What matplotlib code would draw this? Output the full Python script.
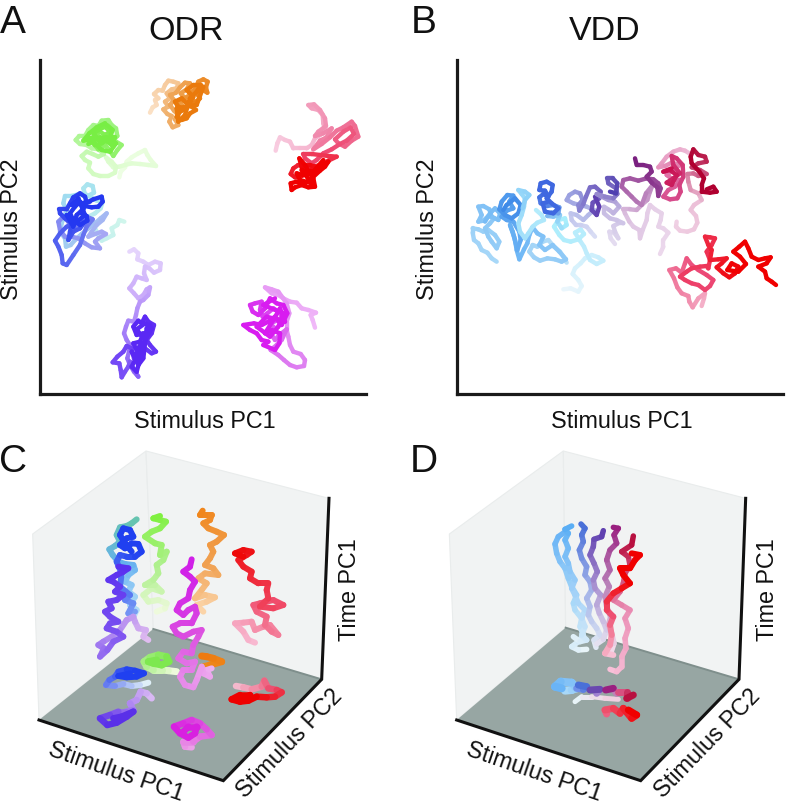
import matplotlib
matplotlib.use('Agg')
import matplotlib.pyplot as plt
from matplotlib.collections import LineCollection
from matplotlib.colors import LinearSegmentedColormap
from matplotlib.patches import Polygon
import numpy as np

W, H = 796, 806
plt.rcParams['font.family'] = ['Liberation Sans', 'DejaVu Sans']

# Panel A, ODR, stimulus PC1 / PC2 (faint start -> saturated end)
odr_orange = [(360,188),(368,172),(380,165),(375,150),(385,145),(372,132),(385,120),(398,122),(405,105),(415,92),(430,95),(445,100),(440,115),(425,118),(410,130),(420,145),(405,155),(415,170),(400,178),(412,192),(425,198),(418,215),(428,232),(445,225),(435,208),(445,195),(432,182),(420,165),(432,150),(420,135),(438,128),(450,112),(465,98),(480,100),(470,118),(452,130),(465,145),(450,158),(462,172),(445,185),(440,160),(455,150),(472,140),(490,150),(478,130),(495,118),(505,95),(520,88),(533,95),(528,112),(532,128),(515,118),(500,130),(510,145),(492,160),(475,155),(485,170),(498,180),(480,190),(470,205),(455,210),(440,200),(450,185),(465,178),(445,170),(435,155),(455,145),(475,165),(490,140),(470,120),(490,105),(512,105),(500,125),(480,145),(465,195),(445,215),(440,175),(500,165),(520,110)]
odr_green = [(268,382),(272,365),(285,352),(290,335),(305,322),(325,310),(345,300),(352,315),(362,330),(378,348),(355,345),(330,342),(305,340),(285,345),(268,350),(250,352),(235,335),(228,322),(245,335),(258,350),(255,368),(235,378),(210,378),(190,372),(175,355),(180,338),(165,330),(155,318),(170,305),(188,312),(205,320),(222,312),(205,298),(185,295),(170,285),(150,282),(137,270),(148,258),(165,258),(175,240),(190,225),(205,228),(215,212),(235,210),(245,225),(258,235),(262,258),(250,270),(275,285),(262,300),(250,318),(238,300),(225,285),(205,298),(190,280),(175,268),(195,258),(210,245),(225,255),(240,245),(225,230),(205,240),(190,250),(205,270),(225,270),(245,285),(255,262),(240,262),(215,280),(195,285),(180,265),(232,262),(258,280),(240,305),(215,300),(185,270),(160,272),(178,250),(200,232),(225,220),(248,240),(235,275),(210,262),(175,282)]
odr_blue = [(283,515),(268,510),(262,525),(245,535),(250,555),(230,565),(215,572),(205,555),(195,535),(185,515),(175,500),(195,490),(212,475),(218,455),(200,452),(185,442),(165,432),(160,415),(172,403),(188,408),(192,428),(170,440),(150,432),(125,438),(105,438),(100,460),(110,480),(95,520),(90,545),(105,565),(108,590),(122,585),(135,570),(155,552),(175,535),(195,520),(212,505),(230,490),(218,510),(200,525),(185,545),(175,560),(195,552),(215,545),(228,552),(205,565),(195,575),(210,595),(185,592),(165,580),(145,565),(125,560),(105,560),(90,540),(85,515),(100,500),(115,515),(125,540),(140,525),(155,510),(170,500),(188,508),(170,530),(160,555),(150,585),(130,615),(110,645),(98,640),(95,615),(85,590),(75,572),(90,550),(110,530),(135,520),(165,515),(150,535),(130,545),(115,570),(120,545),(125,520),(105,505),(90,490),(88,478),(110,478),(120,460),(130,442),(150,430),(165,440),(170,458),(190,448),(215,440),(218,455),(205,470),(185,472),(165,468),(150,488),(170,498),(172,512),(150,525),(130,510),(120,490),(135,470),(150,455),(160,478),(140,495),(130,530),(110,495),(140,515),(165,495),(145,445),(125,465),(180,455)]
odr_violet = [(298,605),(312,598),(325,610),(322,628),(340,635),(355,645),(375,635),(392,640),(390,660),(372,668),(358,655),(345,650),(342,670),(350,690),(335,685),(320,680),(310,700),(298,715),(312,730),(325,745),(340,735),(350,718),(360,712),(355,735),(340,750),(330,755),(322,775),(318,795),(312,815),(295,812),(288,830),(282,850),(290,870),(300,885),(297,905),(292,925),(300,945),(312,965),(325,980),(312,960),(300,935),(295,950),(285,965),(275,982),(272,960),(268,940),(248,937),(262,920),(280,905),(290,888),(305,895),(312,925),(325,935),(335,910),(345,895),(365,910),(378,905),(360,885),(350,870),(365,850),(372,825),(355,815),(345,800),(335,820),(325,812),(310,830),(320,855),(340,850),(330,875),(310,880),(320,900),(335,880),(315,920),(305,905),(325,945),(340,925),(350,835),(360,825),(340,865),(320,838),(345,820),(365,835),(330,900),(305,950),(320,965),(345,870)]
odr_magenta = [(855,833),(848,810),(842,795),(858,788),(835,780),(815,775),(800,758),(780,755),(760,745),(745,735),(725,730),(705,712),(725,718),(745,725),(770,760),(778,790),(770,815),(770,840),(775,860),(780,885),(790,905),(812,912),(825,930),(822,948),(800,952),(780,945),(762,930),(745,915),(722,900),(740,885),(755,870),(770,838),(748,855),(735,870),(722,850),(735,835),(720,820),(740,812),(758,800),(745,785),(730,775),(712,790),(698,800),(690,780),(695,755),(675,760),(660,765),(668,785),(685,795),(705,775),(720,745),(740,760),(760,765),(772,790),(755,825),(735,800),(715,815),(695,825),(672,820),(640,825),(660,840),(680,850),(695,870),(715,875),(700,885),(735,900),(748,880),(750,850),(725,840),(705,850),(730,810),(750,775),(765,815),(710,800),(680,830),(720,860),(745,830),(760,790),(700,765),(735,745)]
odr_red = [(737,302),(742,280),(750,262),(765,270),(780,275),(790,295),(810,295),(830,295),(845,285),(855,265),(870,255),(885,240),(880,220),(878,195),(865,180),(845,175),(835,165),(852,163),(870,180),(885,205),(888,228),(865,245),(855,258),(880,250),(905,235),(890,262),(870,272),(850,298),(875,282),(900,262),(920,242),(940,232),(965,215),(975,228),(985,260),(965,272),(945,290),(925,280),(915,268),(940,245),(962,232),(972,252),(950,272),(930,282),(905,298),(880,310),(860,330),(845,340),(825,325),(820,312),(845,312),(870,315),(895,318),(920,320),(895,332),(870,345),(850,350),(830,345),(805,345),(790,355),(782,372),(795,382),(815,378),(835,365),(855,350),(840,345),(815,352),(808,325),(825,345),(838,368),(850,385),(855,410),(835,412),(815,405),(795,412),(785,420),(782,400),(800,395),(825,400),(845,385),(870,362),(885,350),(895,335),(870,350),(845,372),(820,375),(800,370),(810,390),(845,400),(815,360),(850,365),(880,330)]

# Panel B, VDD
vdd_sky_a = [(350,638),(340,620),(330,605),(312,590),(295,570),(278,575),(262,590),(248,585),(238,605),(252,622),(270,632),(292,625),(315,628),(335,635),(348,628),(328,605),(308,585),(285,600),(268,585),(280,560),(262,550),(248,532),(238,555),(232,580),(222,598),(208,628),(200,600),(195,570),(188,545),(180,525),(192,560),(202,600),(212,570),(208,545),(190,515),(170,510),(155,500),(170,482),(190,475),(178,455),(190,437),(172,435),(155,455),(148,478),(165,495),(185,505),(205,490),(212,465),(195,445),(170,465),(160,480)]
vdd_sky_b = [(140,635),(125,625),(112,608),(95,600),(85,580),(72,570),(68,548),(68,535),(85,538),(100,545),(115,540),(135,555),(148,575),(140,595),(125,575),(115,560),(105,535),(120,520),(132,505),(115,498),(100,512),(85,515),(95,495),(85,470),(100,468),(118,478),(125,500),(145,510),(150,490),(135,475),(120,490),(105,515)]
vdd_sky_c = [(258,480),(275,495),(282,510),(262,518),(248,530),(235,550),(225,565),(210,545),(205,520),(215,495),(222,470),(225,445),(215,432),(205,420),(225,425),(238,435),(225,450),(218,475)]
vdd_blue = [(340,718),(362,715),(385,725),(395,708),(385,690),(368,672),(375,655),(392,640),(405,625),(425,615),(445,622),(460,632),(440,642),(420,630),(410,610),(402,590),(390,572),(375,548),(392,538),(402,552),(385,568),(362,575),(342,570),(328,555),(312,530),(325,510),(345,505),(350,525),(335,535),(322,515),(330,495),(310,500),(292,498),(305,488),(325,490),(328,472),(310,465),(292,468),(272,460),(268,442),(280,432),(295,440),(285,422),(268,420),(272,400),(290,395),(308,405),(305,425),(290,445),(305,460),(325,475),(310,490),(285,485),(278,460),(295,455)]
vdd_indigo = [(435,560),(422,545),(410,530),(392,525),(378,525),(365,510),(362,490),(380,495),(400,510),(415,495),(432,480),(410,470),(390,465),(370,460),(350,450),(358,435),(375,425),(390,430),(398,450),(385,465),(388,482),(400,462),(408,440),(420,412),(435,410),(452,425),(448,445),(428,458),(425,480),(440,495),(448,470),(435,440)]
vdd_purple = [(495,582),(482,565),(478,545),(492,548),(505,565),(495,545),(490,528),(505,520),(520,520),(500,510),(480,505),(462,490),(462,470),(478,480),(490,490),(508,470),(495,455),(475,450),(455,440),(440,432),(465,440),(490,445),(502,432),(498,415),(475,400),(472,385),(488,385),(502,400),(498,430),(480,425)]
vdd_plum = [(630,612),(640,590),(640,570),(655,548),(640,535),(625,530),(632,510),(635,490),(615,478),(600,465),(592,490),(590,510),(578,540),(570,565),(568,540),(550,530),(538,515),(525,490),(520,478),(540,478),(560,480),(578,462),(592,450),(600,425),(608,405),(588,430),(575,465),(560,455),(545,440),(530,425),(515,410),(520,390),(540,385),(565,392),(590,385),(610,388),(625,400),(632,415),(625,438),(622,412),(605,398),(590,380),(605,365),(600,350),(580,345),(560,345),(555,325)]
vdd_crimson = [(718,310),(705,302),(690,298),(670,305),(650,320),(635,340),(625,352),(645,348),(665,338),(690,345),(670,360),(650,375),(668,388),(690,390),(675,410),(655,420),(640,440),(660,448),(682,445),(692,425),(688,405),(700,380),(698,345),(680,325),(665,318),(670,345),(690,370),(670,385),(650,398),(665,405),(680,375),(660,360),(640,365),(665,355)]
vdd_darkred = [(680,515),(678,530),(690,542),(712,545),(732,538),(742,518),(738,498),(722,480),(732,465),(755,450),(745,430),(722,420),(715,395),(712,372),(730,370),(745,378),(770,372),(750,360),(725,352),(745,340),(770,335),(765,320),(745,315),(730,298),(722,320),(725,340),(748,365),(762,385),(755,405),(755,425),(780,428),(800,425),(790,410),(770,418)]
vdd_red = [(755,768),(762,745),(765,730),(745,745),(728,772),(718,755),(715,738),(695,730),(682,712),(672,685),(658,660),(678,655),(695,668),(705,640),(710,625),(725,645),(745,660),(770,675),(790,690),(780,708),(765,720),(745,705),(725,700),(705,690),(690,680),(710,665),(725,655),(750,650),(770,648),(775,655),(780,630),(770,605),(785,585),(795,565),(780,562),(765,560),(775,585),(785,600),(780,630),(805,628),(830,625),(815,640),(800,652),(820,670),(838,682),(855,670),(865,650),(845,640),(832,660),(865,665),(888,642),(870,620),(850,605),(868,590),(885,575),(895,595),(905,620),(925,630),(945,625),(962,622),(950,640),(925,650),(945,665),(950,685),(965,695),(978,705)]

# Panel C, seen in the box: bottom of the trajectory first
c_sky = [(340,530),(350,510),(330,495),(345,470),(325,455),(335,435),(315,425),(325,405),(345,390),(340,375),(315,372),(295,365),(278,345),(268,328),(285,318),(300,305),(290,285),(300,262),(320,258),(335,250),(350,238)]
c_dkblue = [(345,515),(325,520),(340,490),(315,480),(330,465),(300,440),(305,400),(290,365),(300,345),(320,350),(345,350),(365,335),(355,312),(335,310),(315,325),(300,315),(320,295),(340,290),(330,270),(310,265),(300,285),(315,310),(335,335)]
c_violet = [(385,600),(370,590),(378,570),(355,565),(345,545),(340,530),(320,540),(300,570),(275,590),(250,605),(235,615),(252,625),(240,650),(262,630),(280,605),(310,590),(290,575),(260,565),(270,550),(295,545),(270,530),(255,515),(275,505),(265,485),(290,480),(310,465),(285,455),(300,440),(280,425),(265,420),(290,405),(310,395),(325,385),(295,380)]
c_magenta = [(575,685),(560,690),(570,710),(550,700),(545,680),(530,720),(520,742),(495,735),(480,710),(490,690),(515,690),(525,665),(500,670),(475,655),(490,635),(515,640),(520,615),(535,590),(545,570),(520,575),(490,590),(470,580),(458,560),(480,550),(515,550),(530,520),(525,500),(505,510),(490,525),(470,510),(480,490),(505,475),(510,450),(525,425),(510,410),(490,395),(510,380),(515,358)]
c_orange = [(550,515),(530,495),(560,485),(585,472),(555,465),(525,475),(545,450),(560,430),(535,415),(555,400),(595,405),(580,385),(555,375),(570,355),(580,335),(570,315),(590,305),(612,285),(590,275),(565,265),(550,250),(570,240),(575,225),(555,225),(540,225),(548,212)]
c_green = [(410,515),(435,505),(440,490),(415,480),(385,485),(370,465),(395,445),(425,455),(405,435),(375,435),(400,420),(415,400),(410,375),(430,360),(440,335),(420,345),(425,315),(405,310),(375,290),(395,275),(420,265),(438,245),(420,240),(400,235),(420,228)]
c_red = [(705,608),(685,600),(670,575),(645,550),(670,548),(695,545),(705,570),(730,560),(750,555),(775,585),(755,575),(735,555),(740,530),(710,515),(700,495),(720,490),(760,480),(790,495),(760,505),(720,500),(745,475),(740,450),(745,430),(715,430),(690,415),(695,395),(670,380),(655,360),(680,345),(695,335),(670,330),(645,340),(670,350)]
c_floor_green = [(470,695),(445,692),(425,690),(400,690),(380,680),(372,665),(390,652),(415,645),(440,650),(447,665),(425,675),(400,670),(385,665),(410,660)]
c_floor_blue = [(385,728),(360,735),(335,738),(310,732),(285,738),(258,735),(268,720),(285,710),(295,695),(320,688),(345,692),(372,700),(350,710),(320,712),(295,708),(330,700)]
c_floor_violet = [(395,775),(380,760),(362,755),(350,780),(330,790),(340,810),(318,815),(295,815),(270,825),(240,835),(262,855),(290,848),(320,830),(340,815),(305,830),(280,835)]
c_floor_magenta = [(515,922),(495,920),(490,905),(520,905),(540,890),(575,885),(560,868),(540,850),(515,840),(490,850),(462,860),(480,880),(505,893),(525,880),(530,860),(505,860),(490,875)]
c_floor_orange = [(545,682),(570,675),(605,665),(580,655),(560,650),(545,648)]
c_floor_red = [(648,738),(670,742),(695,748),(725,740),(733,722),(745,745),(770,750),(785,757),(765,770),(740,772),(710,770),(685,782),(660,785),(635,778),(660,765),(690,765),(670,775)]

# Panel D
d_sky1 = [(400,590),(420,605),(440,600),(425,585),(435,560),(425,535),(435,510),(415,490),(405,465),(395,445),(405,420),(390,395),(385,370),(375,350),(385,325),(375,300),(385,280),(375,268),(395,258)]
d_sky2 = [(440,628),(415,630),(395,620),(415,605),(430,585),(420,560),(425,535),(405,510),(400,490),(410,465),(395,440),(385,415),(375,385),(360,365),(350,340),(345,312),(355,290),(372,278)]
d_blue = [(468,622),(462,600),(480,585),(470,565),(455,545),(445,525),(450,500),(440,475),(455,450),(450,425),(435,405),(440,380),(425,355),(418,330),(430,305),(425,285),(435,265),(423,252)]
d_purple = [(470,612),(490,598),(500,570),(490,545),(478,520),(470,495),(482,465),(465,445),(460,420),(472,395),(462,370),(450,345),(460,320),(462,298),(485,290),(490,272)]
d_plum = [(512,640),(522,610),(515,580),(505,555),(512,530),(500,500),(495,470),(508,440),(495,415),(510,390),(500,360),(510,330),(530,310),(522,285),(535,265),(520,262)]
d_crimson = [(510,688),(530,695),(545,680),(545,650),(558,625),(555,595),(565,565),(555,535),(570,510),(545,495),(520,480),(540,455),(550,430),(555,400),(570,375),(565,350),(545,335),(575,315),(580,288)]
d_red = [(520,645),(495,640),(510,615),(515,585),(510,555),(520,530),(500,510),(500,485),(520,460),(545,445),(570,430),(550,405),(540,385),(570,385),(585,360),(600,345),(575,340)]
d_floor_sky = [(375,752),(395,750),(410,745),(395,728),(362,725),(345,740),(365,745)]
d_floor_pale = [(405,785),(425,770),(455,770),(495,775),(535,778)]
d_floor_blue = [(410,745),(430,748),(440,740),(415,735)]
d_floor_purple = [(470,760),(480,748),(450,750)]
d_floor_plum = [(530,760),(520,745),(497,750)]
d_floor_crimson = [(535,755),(560,755),(560,775),(580,765)]
d_floor_red = [(500,822),(495,810),(520,805),(540,820),(550,805),(575,835),(590,825),(565,810)]

# box corners of the two 3D panels, same reading units as the traces
c_left_wall = [(38,282),(378,33),(400,567),(57,840)]
c_back_wall = [(378,33),(927,175),(905,718),(400,567)]
c_floor = [(57,840),(400,567),(905,718),(610,1022)]
c_floor_back = [(400,567),(905,718)]
c_axes_line = [(57,840),(610,1022),(905,718),(927,175)]
d_left_wall = [(28,282),(370,33),(377,563),(50,840)]
d_back_wall = [(370,33),(917,175),(897,718),(377,563)]
d_floor = [(50,840),(377,563),(897,718),(602,1022)]
d_floor_back = [(377,563),(897,718)]
d_axes_line = [(50,840),(602,1022),(897,718),(917,175)]


def px_axes(left, top, right, bottom):
    return fig.add_axes([left / W, 1 - bottom / H, (right - left) / W, (bottom - top) / H])


def trace(ax, pts, stops, lw=4.4):
    # one colour per segment, going through the stops
    pts = np.array(pts, dtype=float)
    segs = np.stack([pts[:-1], pts[1:]], axis=1)
    cmap = LinearSegmentedColormap.from_list('t', stops)
    cols = cmap(np.linspace(0, 1, len(segs)))
    ax.add_collection(LineCollection(segs, colors=cols, linewidths=lw * 0.72,
                                     capstyle='round', joinstyle='round'))


def box(ax, left, back, floor, floor_back, axes_line):
    ax.add_patch(Polygon(left, fc='#f1f3f3', ec='#e9ecec', lw=0.8))
    ax.add_patch(Polygon(back, fc='#f1f3f3', ec='#e9ecec', lw=0.8))
    ax.add_patch(Polygon(floor, fc='#97a6a3', ec='none'))
    ax.plot(*zip(*floor_back), color='#7f8f8c', lw=1.4)
    ax.plot(*zip(*axes_line), color='#111111', lw=2.2, solid_joinstyle='miter')


def label(x, y, s, size=16.8, rot=0):
    fig.text(x / W, 1 - y / H, s, fontsize=size, rotation=rot, ha='center', va='center',
             rotation_mode='anchor', color='#111111')


fig = plt.figure(figsize=(W / 100, H / 100), dpi=100)

# A
ax = px_axes(40, 60, 366, 394)
ax.set_xlim(30, 1008)
ax.set_ylim(1032, 30)
trace(ax, odr_orange, ['#fbe0c4', '#f0b06c', '#ee9a40', '#ea7a0c', '#ea7a0c'])
trace(ax, odr_green, ['#eefee4', '#d8fcc8', '#a4f488', '#78ee44', '#78ee44'])
trace(ax, odr_blue, ['#d0f6ec', '#a0e0f0', '#a6a6f4', '#5a68f0', '#2438f0', '#2438f0'])
trace(ax, odr_violet, ['#e6d6fc', '#c8a8fa', '#7a50f6', '#5a28f4', '#5a28f4'])
trace(ax, odr_magenta, ['#f0b8f8', '#dc78f0', '#d81cf0', '#d81cf0'])
trace(ax, odr_red, ['#f8cce0', '#f088ac', '#ee4a72', '#f00000', '#f00000'])

# B
bx = px_axes(457, 60, 783, 394)
bx.set_xlim(21, 999)
bx.set_ylim(1032, 30)
trace(bx, vdd_sky_b, ['#a8d8f8', '#78bcf5'])
trace(bx, vdd_sky_a, ['#b8e0f8', '#70b8f6', '#3f8ae8'])
trace(bx, vdd_sky_c, ['#b4ecfc', '#8cd0f8'])
trace(bx, vdd_blue, ['#eaf6fc', '#c0ecfc', '#a8eefc', '#3f68e0', '#3f68e0'])
trace(bx, vdd_indigo, ['#d8dcf4', '#9aa0e0', '#5f3fb0'])
trace(bx, vdd_purple, ['#e4dcf0', '#c0b4e0', '#4f3fb0'])
trace(bx, vdd_plum, ['#ecd8ec', '#e0c8e4', '#a860a8', '#7a2080'])
trace(bx, vdd_crimson, ['#eebcd8', '#d85090', '#c81050'])
trace(bx, vdd_darkred, ['#f0d0e4', '#ecc0d8', '#c8507c', '#b00030', '#b00030'])
trace(bx, vdd_red, ['#f4b0c8', '#ec4a78', '#ee3050', '#f00000', '#f00000'])

for a in (ax, bx):
    a.set_xticks([])
    a.set_yticks([])
    a.spines['top'].set_visible(False)
    a.spines['right'].set_visible(False)
    a.spines['left'].set_linewidth(2.3)
    a.spines['bottom'].set_linewidth(2.3)
    a.spines['left'].set_color('#1a1a1a')
    a.spines['bottom'].set_color('#1a1a1a')

# C
cx = px_axes(20, 440, 360, 800)
cx.set_xlim(0, 1020)
cx.set_ylim(1080, 0)
cx.axis('off')
box(cx, c_left_wall, c_back_wall, c_floor, c_floor_back, c_axes_line)
trace(cx, c_floor_orange, ['#ee8a1e', '#ee7a10'], 7)
trace(cx, c_floor_green, ['#eefadc', '#b0f090', '#7ee850', '#7ee850'], 7)
trace(cx, c_floor_blue, ['#e0f0f8', '#6a80f0', '#2040f0', '#2040f0'], 6)
trace(cx, c_floor_violet, ['#d8b8f4', '#a880f0', '#5a30e8', '#5a30e8'], 6.5)
trace(cx, c_floor_magenta, ['#eca0e8', '#e060e0', '#d820e0', '#d820e0'], 6.5)
trace(cx, c_floor_red, ['#f4b8cc', '#ec5070', '#ee0000', '#ee0000'], 6.5)
trace(cx, c_sky, ['#b8e0f8', '#64b0f0', '#66c4b0'], 6)
trace(cx, c_dkblue, ['#7a9cf4', '#2040f0', '#2040f0'], 6)
trace(cx, c_violet, ['#e0bcf0', '#7a50f0', '#5a30f0'], 6)
trace(cx, c_green, ['#eefadc', '#b0f090', '#80f040'], 6)
trace(cx, c_orange, ['#fbd4a8', '#f0a050', '#f0861c'], 6)
trace(cx, c_magenta, ['#eeb0f0', '#dc50e0', '#d020e8'], 6)
trace(cx, c_red, ['#f8b8d0', '#f05070', '#ee0808'], 6)

# D
dx = px_axes(440, 440, 780, 800)
dx.set_xlim(0, 1020)
dx.set_ylim(1080, 0)
dx.axis('off')
box(dx, d_left_wall, d_back_wall, d_floor, d_floor_back, d_axes_line)
trace(dx, d_floor_pale, ['#e8f4f8', '#f0d0e0'], 5)
trace(dx, d_floor_sky, ['#a8d8f8', '#6ab4f6'], 8)
trace(dx, d_floor_blue, ['#7090e8', '#4a70d8'], 7)
trace(dx, d_floor_purple, ['#a080d0', '#6a48b0'], 7)
trace(dx, d_floor_plum, ['#c080b8', '#9a2080'], 7)
trace(dx, d_floor_crimson, ['#d85080', '#b81040'], 7)
trace(dx, d_floor_red, ['#ee6080', '#f00000'], 7)
trace(dx, d_sky2, ['#e8f4f8', '#a8d8f8', '#6ab4f6'], 5.5)
trace(dx, d_sky1, ['#e0f0f8', '#a0d0f8', '#5aaef5'], 5.5)
trace(dx, d_blue, ['#e0e8f4', '#a0b0e8', '#4a70d8'], 5.5)
trace(dx, d_purple, ['#e4e0f0', '#a890d0', '#5f40b0'], 5.5)
trace(dx, d_plum, ['#f0d8e8', '#b880b8', '#9a2080'], 5.5)
trace(dx, d_crimson, ['#f8c0d8', '#e888b0', '#b81040'], 5.5)
trace(dx, d_red, ['#f8c0d4', '#ee5070', '#f00000', '#f00000'], 6)

# texts
label(186, 31, 'ODR', 24.5)
label(605, 31, 'VDD', 24.5)
label(205, 421, 'Stimulus PC1')
label(622, 421, 'Stimulus PC1')
label(12, 229, 'Stimulus PC2', rot=90)
label(428, 229, 'Stimulus PC2', rot=90)
label(116, 772, 'Stimulus PC1', rot=-19)
label(534, 772, 'Stimulus PC1', rot=-19)
label(289, 744, 'Stimulus PC2', rot=46)
label(707, 744, 'Stimulus PC2', rot=46)
label(350, 590, 'Time PC1', rot=90)
label(767, 590, 'Time PC1', rot=90)
label(13, 23, 'A', 28)
label(424, 23, 'B', 28)
label(13, 462, 'C', 28)
label(424, 462, 'D', 28)

fig.savefig('out.png', dpi=100)
